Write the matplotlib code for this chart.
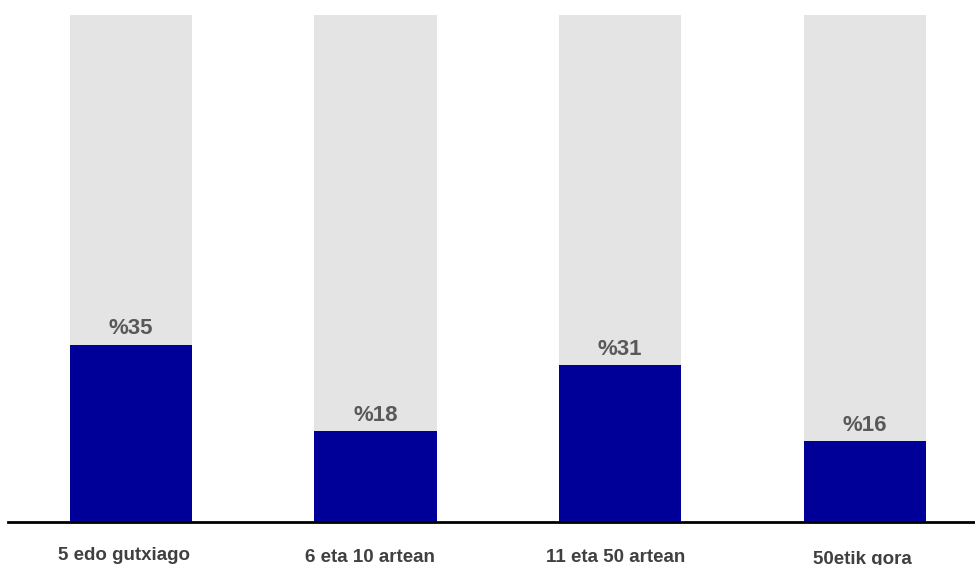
import matplotlib.pyplot as plt

categories = ["5 edo gutxiago", "6 eta 10 artean", "11 eta 50 artean", "50etik gora"]
values = [35, 18, 31, 16]
labels = ["%35", "%18", "%31", "%16"]
total = [100, 100, 100, 100]

fig = plt.figure(figsize=(9.75, 5.65), dpi=100)
ax = fig.add_axes([8 / 975, 1 - 522 / 565, 1 - 8 / 975, (522 - 15) / 565])

x = range(len(categories))
ax.bar(x, total, width=0.5, color="#e4e4e4", zorder=1)
ax.bar(x, values, width=0.5, color="#000099", zorder=2)

for i, (v, lab) in enumerate(zip(values, labels)):
    ax.text(i, v + 1.0, lab, ha="center", va="bottom", fontsize=16,
            fontweight="bold", color="#595959", family="Liberation Sans")

ax.set_xlim(-0.502, 3.45)
ax.set_ylim(0, 100)
for s in ["top", "right", "left"]:
    ax.spines[s].set_visible(False)
ax.spines["bottom"].set_linewidth(2)
ax.spines["bottom"].set_color("black")
ax.set_yticks([])
ax.set_xticks([])

# category labels sit a bit lower the further right they are
offsets = [555, 557, 558, 560]
for i, (c, yy) in enumerate(zip(categories, offsets)):
    fig.text((124 + i * 246) / 975, 1 - yy / 565, c, ha="center", va="center",
             fontsize=13.5, fontweight="bold", color="#404040", family="Liberation Sans")

fig.savefig("out.png", dpi=100)
